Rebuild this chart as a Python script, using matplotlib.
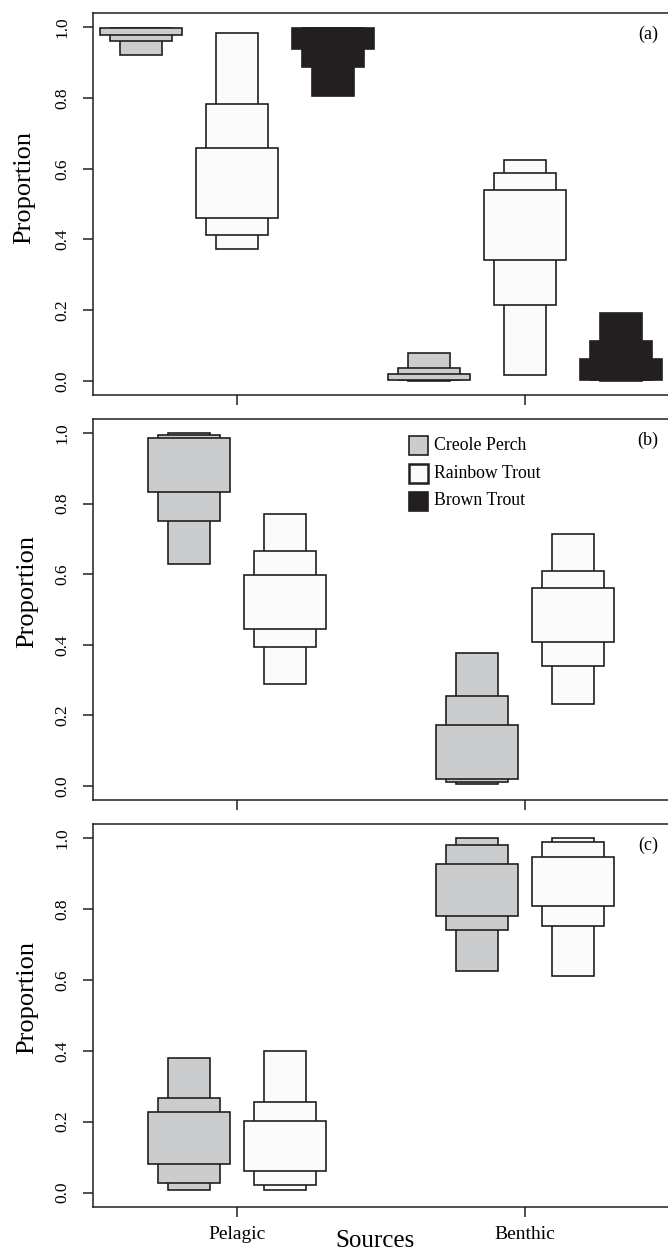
import matplotlib
matplotlib.use("Agg")
import matplotlib.pyplot as plt
from matplotlib.patches import Rectangle

plt.rcParams['font.family'] = ['Liberation Serif', 'DejaVu Serif']

sources = ["Pelagic", "Benthic"]
species = ["Creole Perch", "Rainbow Trout", "Brown Trout"]
panel_tags = ["(a)", "(b)", "(c)"]
yticks = [0.0, 0.2, 0.4, 0.6, 0.8, 1.0]

# credible intervals per source: [(lo95, hi95), (lo75, hi75), (lo50, hi50)]
creole_a = [[(0.922, 0.999), (0.962, 0.998), (0.979, 0.997)],
            [(0.001, 0.078), (0.002, 0.036), (0.003, 0.020)]]
rainbow_a = [[(0.374, 0.983), (0.412, 0.784), (0.461, 0.660)],
             [(0.016, 0.626), (0.214, 0.588), (0.341, 0.539)]]
brown_a = [[(0.806, 0.999), (0.887, 0.998), (0.938, 0.997)],
           [(0.001, 0.193), (0.002, 0.112), (0.003, 0.063)]]

creole_b = [[(0.630, 1.000), (0.751, 0.994), (0.832, 0.987)],
            [(0.004, 0.376), (0.010, 0.255), (0.019, 0.173)]]
rainbow_b = [[(0.290, 0.772), (0.395, 0.665), (0.445, 0.597)],
             [(0.232, 0.715), (0.340, 0.610), (0.408, 0.561)]]

creole_c = [[(0.006, 0.380), (0.027, 0.268), (0.081, 0.227)],
            [(0.626, 1.000), (0.740, 0.982), (0.780, 0.928)]]
rainbow_c = [[(0.006, 0.400), (0.022, 0.256), (0.062, 0.203)],
             [(0.610, 1.000), (0.752, 0.988), (0.808, 0.948)]]

colors = {"Creole Perch": "#cbcccd", "Rainbow Trout": "#fbfbfb", "Brown Trout": "#231f20"}
edge = "#231f20"

panels = [
    [("Creole Perch", creole_a), ("Rainbow Trout", rainbow_a), ("Brown Trout", brown_a)],
    [("Creole Perch", creole_b), ("Rainbow Trout", rainbow_b)],
    [("Creole Perch", creole_c), ("Rainbow Trout", rainbow_c)],
]

W, H = 668, 1251
fig = plt.figure(figsize=(W / 100, H / 100), dpi=100)

left_px = 93.3
right_px = left_px + 2 * 288
boxes_px = [(13.3, 395.0), (419.0, 800.0), (824.0, 1206.7)]
label_centers = [(24, 188), (27, 592), (27, 997)]
half_widths = [0.0725, 0.1075, 0.1425]  # 95%, 75%, 50%

for p, (groups, (top, bot)) in enumerate(zip(panels, boxes_px)):
    ax = fig.add_axes([left_px / W, 1 - bot / H, (right_px - left_px) / W, (bot - top) / H])
    n = len(groups)
    offsets = (-1/3, 0, 1/3) if n == 3 else (-1/6, 1/6)
    for (name, data), off in zip(groups, offsets):
        for si in range(len(sources)):
            x = si + 1 + off
            for ci, (lo, hi) in enumerate(data[si]):
                ax.bar(x, hi - lo, bottom=lo, width=2 * half_widths[ci],
                       color=colors[name], edgecolor=edge, linewidth=1.2, zorder=2 + ci)
    ax.set_xlim(0.5, 2.5)
    ax.set_ylim(-0.04, 1.04)
    ax.set_yticks(yticks)
    ax.set_yticklabels([f"{t:.1f}" for t in yticks], rotation=90, va='center', fontsize=12.5)
    ax.set_xticks([1, 2])
    if p == 2:
        ax.set_xticklabels(sources, fontsize=14)
    else:
        ax.set_xticklabels([])
    ax.tick_params(axis='y', length=7.2, width=1.1, pad=9, color=edge)
    ax.tick_params(axis='x', length=7.2, width=1.1, pad=7, color=edge)
    for s in ax.spines.values():
        s.set_linewidth(1.1)
        s.set_color(edge)
    fig.text(648 / W, 1 - (top + 21) / H, panel_tags[p], fontsize=13,
             ha='center', va='center')
    lx, ly = label_centers[p]
    fig.text(lx / W, 1 - ly / H, "Proportion", rotation=90,
             ha='center', va='center', fontsize=19)

# legend in panel (b)
leg_rows = [445, 473, 501]
for name, yc in zip(species, leg_rows):
    fig.patches.append(Rectangle((409 / W, 1 - (yc + 9.5) / H), 19 / W, 19 / H,
                                 transform=fig.transFigure, facecolor=colors[name],
                                 edgecolor=edge, linewidth=1.8 if name == "Rainbow Trout" else 1.2))
    fig.text(434 / W, 1 - yc / H, name, ha='left', va='center', fontsize=12.8)

fig.text(375 / W, 1 - 1241 / H, "Sources", ha='center', va='center', fontsize=18)

fig.savefig("out.png", dpi=100)
